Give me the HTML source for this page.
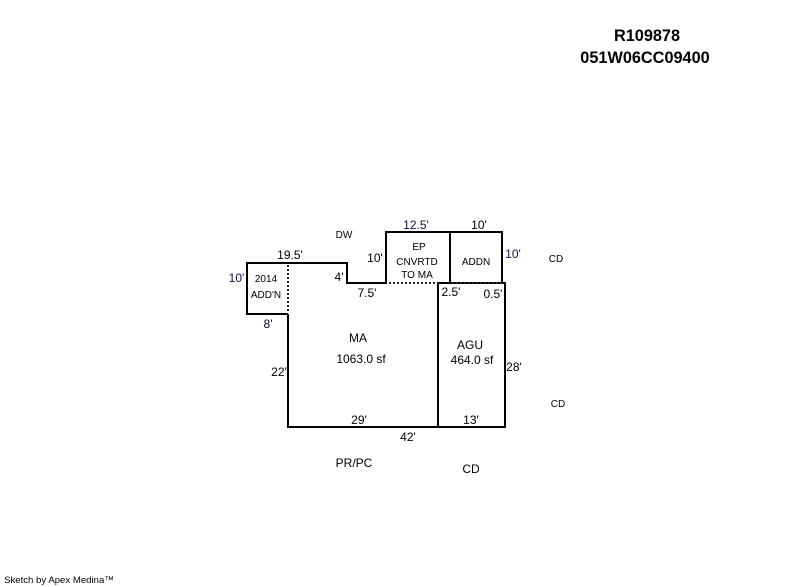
<!DOCTYPE html>
<html>
<head>
<meta charset="utf-8">
<style>
html,body{margin:0;padding:0;background:#fff;width:800px;height:587px;overflow:hidden}
svg{display:block}
text{font-family:"Liberation Sans",Arial,sans-serif;fill:#000;text-anchor:middle}
.s{font-size:10px}
.m{font-size:12px}
.p{fill:#1a0a40}
.h{font-size:16.3px;font-weight:bold}
</style>
</head>
<body>
<svg width="800" height="587" viewBox="0 0 800 587" xmlns="http://www.w3.org/2000/svg">
<g fill="none" stroke="#000" stroke-width="2" shape-rendering="crispEdges">
<path d="M288 314H247V263H347V283H386V232H502V283"/>
<path d="M450 232V283"/>
<path d="M288 314V427H505V283H438V427"/>
<g stroke-dasharray="2 2" stroke="#222">
<path d="M288 265V312"/>
<path d="M389 283H437"/>
<path d="M452 283H504"/>
</g>
</g>
<text class="h" x="647" y="41">R109878</text>
<text class="h" x="645" y="63">051W06CC09400</text>
<text class="m" x="290" y="259">19.5'</text>
<text class="m p" x="236.5" y="282">10'</text>
<text class="s" x="266" y="282">2014</text>
<text class="s" x="266" y="298">ADD'N</text>
<text class="m p" x="268" y="328">8'</text>
<text class="s" x="344" y="238">DW</text>
<text class="m" x="339" y="281">4'</text>
<text class="m" x="367" y="297">7.5'</text>
<text class="m" x="375" y="262">10'</text>
<text class="m p" x="416" y="229">12.5'</text>
<text class="m" x="479" y="229">10'</text>
<text class="s" x="419" y="250">EP</text>
<text class="s" x="417" y="265">CNVRTD</text>
<text class="s" x="417" y="278">TO MA</text>
<text class="s" x="476" y="265">ADDN</text>
<text class="m p" x="513" y="258">10'</text>
<text class="s" x="556" y="262">CD</text>
<text class="m" x="451" y="296">2.5'</text>
<text class="m" x="493" y="298">0.5'</text>
<text class="m" x="358" y="342">MA</text>
<text class="m" x="361" y="363">1063.0 sf</text>
<text class="m" x="470" y="349">AGU</text>
<text class="m" x="472" y="364">464.0 sf</text>
<text class="m" x="279" y="376">22'</text>
<text class="m" x="514" y="371">28'</text>
<text class="s" x="558" y="407">CD</text>
<text class="m" x="359" y="424">29'</text>
<text class="m" x="471" y="424">13'</text>
<text class="m" x="408" y="441">42'</text>
<text class="m" x="354" y="467">PR/PC</text>
<text class="m" x="471" y="473">CD</text>
<text x="59" y="583" style="font-size:9.6px">Sketch by Apex Medina™</text>
</svg>
</body>
</html>
